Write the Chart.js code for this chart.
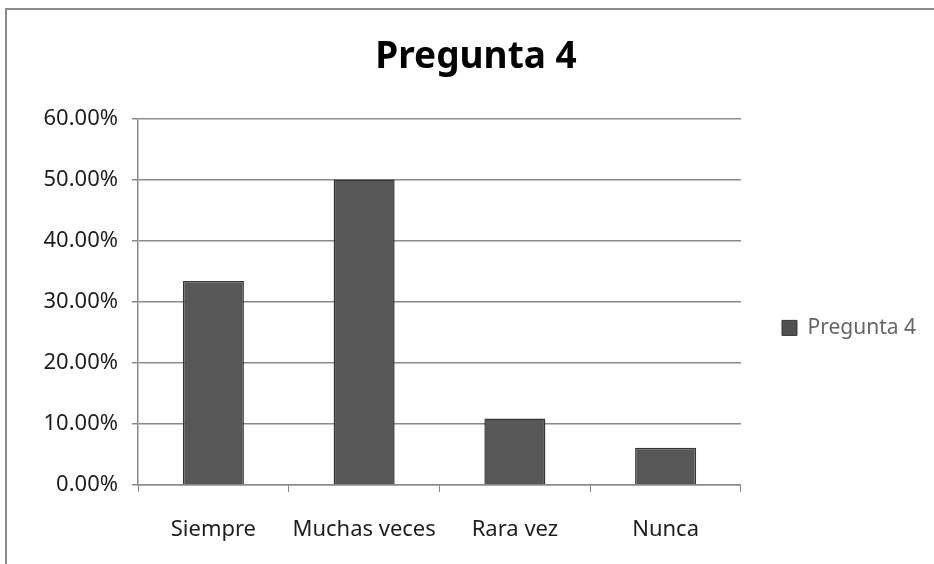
<!DOCTYPE html>
<html>
<head>
<meta charset="utf-8">
<script src="https://cdn.jsdelivr.net/npm/chart.js@4"></script>
<style>
  html, body { margin: 0; padding: 0; background: #fff; }
  #wrap { width: 934px; height: 564px; }
</style>
</head>
<body>
<div id="wrap"><canvas id="chart" width="934" height="564"></canvas></div>
<script>
// Pregunta 4 - bar chart
const categories = ['Siempre', 'Muchas veces', 'Rara vez', 'Nunca'];
const values = [33.4, 50.0, 10.9, 6.1];
const seriesName = 'Pregunta 4';

// outer frame like the office chart box
const frame = {
  id: 'frame',
  beforeDraw(chart) {
    const ctx = chart.ctx;
    ctx.save();
    ctx.fillStyle = '#fff';
    ctx.fillRect(0, 0, chart.width, chart.height);
    ctx.strokeStyle = '#8c8c8c';
    ctx.lineWidth = 2;
    ctx.strokeRect(6, 9, 1000, 1000);
    ctx.restore();
  }
};

const font = 'Noto Sans';
const gridColor = '#8a8a8a';

new Chart(document.getElementById('chart'), {
  type: 'bar',
  data: {
    labels: categories,
    datasets: [{
      label: seriesName,
      data: values,
      backgroundColor: '#575757',
      borderColor: '#363636',
      borderWidth: 1.5,
      categoryPercentage: 1,
      barPercentage: 0.405
    }]
  },
  options: {
    responsive: false,
    animation: false,
    layout: { padding: { left: 26, right: 8, top: 0, bottom: 0 } },
    plugins: {
      title: {
        display: true,
        text: 'Pregunta 4',
        color: '#000',
        font: { family: font, size: 37, weight: 'bold' },
        padding: { top: 35, bottom: 39 }
      },
      legend: {
        display: true,
        position: 'right',
        fullSize: false,
        title: { display: true, text: '', padding: 19 },
        labels: {
          color: '#1e1e1e',
          font: { family: font, size: 21 },
          boxWidth: 15,
          boxHeight: 15,
          padding: 41,
          generateLabels(chart) {
            return [{
              text: seriesName,
              fillStyle: '#505050',
              strokeStyle: '#363636',
              lineWidth: 1,
              datasetIndex: 0
            }];
          }
        }
      },
      tooltip: { enabled: false }
    },
    scales: {
      x: {
        grid: { display: true, drawOnChartArea: false, color: gridColor, tickLength: 7, offset: true },
        border: { color: gridColor, width: 1.5 },
        ticks: { color: '#1e1e1e', font: { family: font, size: 22 }, padding: 25, maxRotation: 0 },
        afterFit(scale) { scale.height = 79; }
      },
      y: {
        min: 0,
        max: 60,
        ticks: {
          stepSize: 10,
          color: '#1e1e1e',
          font: { family: font, size: 22 },
          padding: 14,
          callback: v => v.toFixed(2) + '%'
        },
        grid: { color: gridColor, lineWidth: 1.5, tickLength: 6 },
        border: { color: gridColor, width: 1.5 },
        afterFit(scale) { scale.width = 112; }
      }
    }
  },
  plugins: [frame]
});
</script>
</body>
</html>
